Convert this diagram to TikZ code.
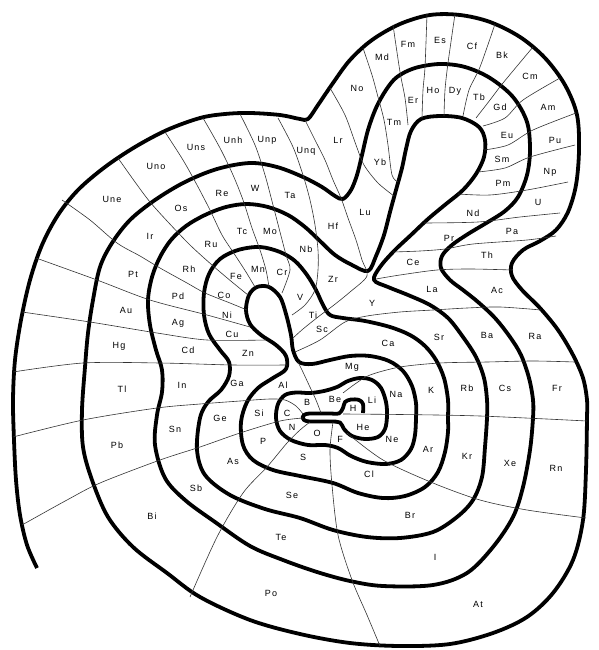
\documentclass[tikz,border=0pt]{standalone}
\usepackage{fontspec}
\newfontfamily\elfont[LetterSpace=12]{Liberation Sans}
\usepackage{tikz}
\usetikzlibrary{positioning}

\begin{document}
\begin{tikzpicture}[
    x=1pt, y=-1pt,
    spiral/.style={line width=3.8pt, line join=round},
    grp/.style={line width=0.6pt, black!80},
    el/.style={font=\elfont\fontsize{9}{10}\selectfont, inner sep=0pt}
]
\useasboundingbox (0,0) rectangle (599,650);

\draw[spiral] plot[smooth, tension=0.55] coordinates {
 (363,413) (363,404) (359,400) (351,399.5) (345,402) (343,408) (339,413.5) (330,413.5) (310,413.5) (304,415) (302.5,417.5) (304,420) (310,421.5) (330,421.5) (340,422.5) (344,429) (352,436) (365,439) (378,437) (385,429) (387,416)
 (386,402) (381,388) (372,380) (360,378) (348,381) (337,387) (324,391) (310,393) (296,392.5) (285,395) (278,404) (276,418) (280,431) (291,440) (308,445) (325,445) (338,448) (351,456) (367,462) (386,464) (401,460) (411,449) (415,435) (416,418)
 (416,403) (412,386) (403,371) (389,361) (370,356) (350,356) (330,360) (312,364) (299,362) (293,350) (291,335) (286,314) (280,297) (269,287) (257,287) (249,295) (246,310) (250,324) (261,335) (276,345) (286,356) (286,369) (273,378) (258,388) (247,402) (241,422) (243,445) (253,460) (273,470) (300,476) (333,483) (358,493) (383,498) (405,496) (425,487) (438,472) (445,452) (448,432) (448,418)
 (448,400) (444,378) (436,360) (425,346) (410,335) (390,327) (365,321) (343,318) (330,315) (323,305) (316,290) (307,275) (295,261) (280,252) (260,247) (238,250) (220,259) (209,274) (204,293) (204,315) (209,334) (220,350) (229,362) (229,376) (221,390) (208,402) (200,418) (197,450) (205,475) (230,495) (265,509) (300,518) (333,530) (367,537) (400,538) (433,532) (457,517) (473,500) (482,477) (485,447) (487,418)
 (487,400) (484,378) (476,357) (463,337) (448,318) (430,305) (408,295) (388,287) (374,280) (380,267) (394,251) (411,235) (428,219) (446,204) (463,190) (476,174) (484,157) (485,140) (479,127) (462,118) (440,116) (421,119) (411,131) (406,149) (402,168) (396,190) (390,212) (384,235) (376,256) (368,271) (352,265) (335,255) (320,241) (305,227) (288,215) (268,207) (247,204) (226,207) (205,215) (186,226) (171,240) (160,257) (152,277) (148,300) (150,325) (156,350) (162,370) (162,392) (157,415) (155,445) (165,478) (185,500) (215,522) (250,546) (283,560) (317,572) (350,581) (383,586) (433,585) (467,573) (493,547) (513,517) (523,487) (530,450) (533,418)
 (533,400) (529,378) (521,355) (510,337) (495,318) (478,302) (463,290) (450,280) (441,268) (442,256) (452,245) (468,234) (488,222) (505,211) (518,197) (527,175) (530,150) (527,122) (513,97) (490,78) (465,67) (440,64) (415,68) (397,77) (386,90) (376,108) (368,130) (362,155) (357,175) (351,190) (343,199) (335,196) (322,187) (303,177) (277,167) (250,163) (217,169) (185,182) (155,200) (130,220) (112,243) (100,267) (93,300) (88,333) (85,367) (82,410) (83,447) (92,480) (108,517) (133,547) (167,573) (200,597) (250,620) (300,634) (350,643) (400,646) (450,644) (493,633) (527,617) (553,593) (573,560) (583,520) (586,470) (587,418)
 (587,400) (583,378) (573,355) (558,330) (540,308) (522,290) (512,276) (512,263) (523,250) (540,241) (556,230) (568,212) (576,185) (579,150) (577,115) (565,85) (545,58) (520,37) (490,22) (460,15) (430,15) (400,24) (372,40) (350,60) (333,83) (318,105) (308,119) (300,119) (280,115) (250,113) (225,114) (200,118) (167,130) (135,147) (105,167) (78,190) (58,215) (42,245) (30,280) (21,320) (15,360) (13,400) (14,440) (16,480) (20,515) (27,545) (37,568)};

\draw[grp] plot[smooth] coordinates {(343,414) (400,414.5) (480,416) (587,421)};
\draw[grp] plot[smooth] coordinates {(343,393) (355,384) (370,375) (400,367) (440,363) (487,362) (533,361) (575,362)};
\draw[grp] plot[smooth] coordinates {(321,413) (316,400) (309,385) (302,370) (298,362)};
\draw[grp] plot[smooth] coordinates {(295,352) (320,340) (345,322) (367,316) (400,312) (433,310) (467,308) (500,307) (541,310)};
\draw[grp] plot[smooth] coordinates {(305,120) (315,140) (325,160) (333,180) (341,198) (348,218) (356,240) (362,260) (367,276) (350,292) (334,305) (318,317) (303,329) (293,338)};
\draw[grp] plot[smooth] coordinates {(278,118) (293,147) (303,175) (310,200) (315,225) (318,250) (318,270) (315,290) (305,305) (292,315)};
\draw[grp] plot[smooth] coordinates {(240,114) (255,145) (265,175) (273,205) (280,232) (286,255) (290,270) (282,293)};
\draw[grp] plot[smooth] coordinates {(203,118) (220,148) (233,175) (243,200) (252,228) (260,250) (266,270) (269,287)};
\draw[grp] plot[smooth] coordinates {(165,132) (183,160) (197,185) (210,210) (222,235) (235,255) (246,272) (255,287)};
\draw[grp] plot[smooth] coordinates {(118,158) (135,182) (150,202) (168,222) (190,245) (212,265) (232,282) (248,295)};
\draw[grp] plot[smooth] coordinates {(62,200) (90,220) (117,243) (140,256) (160,268) (187,283) (205,293) (230,303) (247,310)};
\draw[grp] plot[smooth] coordinates {(36,258) (97,280) (150,300) (207,315) (250,327)};
\draw[grp] plot[smooth] coordinates {(22,312) (90,322) (157,333) (207,340) (266,340)};
\draw[grp] plot[smooth] coordinates {(13,372) (83,363) (160,363) (233,365) (287,365)};
\draw[grp] plot[smooth] coordinates {(13,437) (83,420) (157,408) (200,404) (240,401) (270,399) (285,400) (296,406) (303,414)};
\draw[grp] plot[smooth] coordinates {(22,525) (67,500) (100,483) (160,460) (200,447) (240,433) (280,421) (303,418)};
\draw[grp] plot[smooth] coordinates {(190,597) (217,537) (243,493) (267,467) (287,443) (300,430) (310,422)};
\draw[grp] plot[smooth] coordinates {(333,422) (330,450) (332,485) (338,535) (352,580) (367,615) (380,646)};
\draw[grp] plot[smooth] coordinates {(347,433) (383,460) (433,483) (480,500) (527,510) (586,518)};
\draw[grp] plot[smooth] coordinates {(376,279) (400,275) (437,270) (470,269) (513,270)};
\draw[grp] plot[smooth] coordinates {(393,252) (420,251) (445,249) (473,244) (527,240) (556,236)};
\draw[grp] plot[smooth] coordinates {(424,223) (478,222) (520,217) (560,213)};
\draw[grp] plot[smooth] coordinates {(458,194) (490,195) (527,190) (568,182)};
\draw[grp] plot[smooth] coordinates {(478,172) (505,168) (530,157) (575,145)};
\draw[grp] plot[smooth] coordinates {(484,150) (508,145) (533,130) (576,113)};
\draw[grp] plot[smooth] coordinates {(483,126) (505,118) (523,100) (560,78)};
\draw[grp] plot[smooth] coordinates {(476,118) (490,100) (503,83) (533,47)};
\draw[grp] plot[smooth] coordinates {(463,116) (469,90) (480,67) (495,24)};
\draw[grp] plot[smooth] coordinates {(444,116) (445,90) (448,63) (455,14)};
\draw[grp] plot[smooth] coordinates {(422,118) (423,90) (425,67) (427,14)};
\draw[grp] plot[smooth] coordinates {(408,125) (405,98) (400,72) (393,25)};
\draw[grp] plot[smooth] coordinates {(363,48) (372,75) (378,97) (384,120) (388,145) (392,175) (398,182)};
\draw[grp] plot[smooth] coordinates {(330,88) (345,115) (356,145) (364,165) (378,183) (394,196)};

\node[el] (H) at (353,408) {H};   \node[el] (He) at (363,427) {He};
\node[el] (Li) at (372,400) {Li}; \node[el] (Be) at (335,399) {Be};
\node[el] (B) at (307,402) {B};   \node[el] (C) at (287,413) {C};
\node[el] (N) at (292,427) {N};   \node[el] (O) at (317,433) {O};
\node[el] (F) at (340,439) {F};   \node[el] (Ne) at (392,439) {Ne};
\node[el] (Na) at (396,394) {Na}; \node[el] (Mg) at (352,367) {Mg};
\node[el] (Al) at (283,385) {Al}; \node[el] (Si) at (259,413) {Si};
\node[el] (P) at (263,441) {P};   \node[el] (S) at (303,457) {S};
\node[el] (Cl) at (369,474) {Cl}; \node[el] (Ar) at (428,449) {Ar};
\node[el] (K) at (431,390) {K};   \node[el] (Ca) at (388,343) {Ca};
\node[el] (Sc) at (322,329) {Sc}; \node[el] (Ti) at (313,315) {Ti};
\node[el] (V) at (300,297) {V};   \node[el] (Cr) at (282,272) {Cr};
\node[el] (Mn) at (258,269) {Mn}; \node[el] (Fe) at (236,276) {Fe};
\node[el] (Co) at (224,295) {Co}; \node[el] (Ni) at (227,315) {Ni};
\node[el] (Cu) at (232,334) {Cu}; \node[el] (Zn) at (248,353) {Zn};
\node[el] (Ga) at (237,383) {Ga}; \node[el] (Ge) at (220,418) {Ge};
\node[el] (As) at (233,461) {As}; \node[el] (Se) at (292,495) {Se};
\node[el] (Br) at (410,515) {Br}; \node[el] (Kr) at (467,456) {Kr};
\node[el] (Rb) at (467,388) {Rb}; \node[el] (Sr) at (439,337) {Sr};
\node[el] (Y) at (372,303) {Y};   \node[el] (Zr) at (333,279) {Zr};
\node[el] (Nb) at (306,249) {Nb}; \node[el] (Mo) at (270,231) {Mo};
\node[el] (Tc) at (242,231) {Tc}; \node[el] (Ru) at (211,244) {Ru};
\node[el] (Rh) at (189,269) {Rh}; \node[el] (Pd) at (178,296) {Pd};
\node[el] (Ag) at (178,323) {Ag}; \node[el] (Cd) at (188,350) {Cd};
\node[el] (In) at (182,385) {In}; \node[el] (Sn) at (175,429) {Sn};
\node[el] (Sb) at (196,488) {Sb}; \node[el] (Te) at (281,537) {Te};
\node[el] (I) at (435,557) {I};   \node[el] (Xe) at (510,463) {Xe};
\node[el] (Cs) at (505,388) {Cs}; \node[el] (Ba) at (487,335) {Ba};
\node[el] (La) at (432,289) {La}; \node[el] (Ce) at (413,262) {Ce};
\node[el] (Pr) at (449,238) {Pr}; \node[el] (Nd) at (473,213) {Nd};
\node[el] (Pm) at (503,183) {Pm}; \node[el] (Sm) at (502,159) {Sm};
\node[el] (Eu) at (507,135) {Eu}; \node[el] (Gd) at (500,107) {Gd};
\node[el] (Tb) at (479,97) {Tb};  \node[el] (Dy) at (455,91) {Dy};
\node[el] (Ho) at (433,90) {Ho};  \node[el] (Er) at (413,100) {Er};
\node[el] (Tm) at (394,122) {Tm}; \node[el] (Yb) at (380,162) {Yb};
\node[el] (Lu) at (365,212) {Lu}; \node[el] (Hf) at (333,226) {Hf};
\node[el] (Ta) at (290,195) {Ta}; \node[el] (W) at (255,188) {W};
\node[el] (Re) at (222,193) {Re}; \node[el] (Os) at (181,208) {Os};
\node[el] (Ir) at (150,236) {Ir}; \node[el] (Pt) at (133,274) {Pt};
\node[el] (Au) at (126,310) {Au}; \node[el] (Hg) at (119,346) {Hg};
\node[el] (Tl) at (122,389) {Tl}; \node[el] (Pb) at (117,445) {Pb};
\node[el] (Bi) at (152,516) {Bi}; \node[el] (Po) at (271,593) {Po};
\node[el] (At) at (478,604) {At}; \node[el] (Rn) at (556,468) {Rn};
\node[el] (Fr) at (557,388) {Fr}; \node[el] (Ra) at (535,336) {Ra};
\node[el] (Ac) at (497,290) {Ac}; \node[el] (Th) at (487,255) {Th};
\node[el] (Pa) at (512,231) {Pa}; \node[el] (U) at (538,202) {U};
\node[el] (Np) at (550,172) {Np}; \node[el] (Pu) at (555,140) {Pu};
\node[el] (Am) at (548,107) {Am}; \node[el] (Cm) at (530,76) {Cm};
\node[el] (Bk) at (502,55) {Bk};  \node[el] (Cf) at (472,46) {Cf};
\node[el] (Es) at (440,40) {Es};  \node[el] (Fm) at (408,44) {Fm};
\node[el] (Md) at (382,57) {Md};  \node[el] (No) at (357,88) {No};
\node[el] (Lr) at (338,140) {Lr}; \node[el] (Unq) at (306,151) {Unq};
\node[el] (Unp) at (267,140) {Unp}; \node[el] (Unh) at (233,140) {Unh};
\node[el] (Uns) at (196,147) {Uns}; \node[el] (Uno) at (156,166) {Uno};
\node[el] (Une) at (112,199) {Une};
\end{tikzpicture}
\end{document}
